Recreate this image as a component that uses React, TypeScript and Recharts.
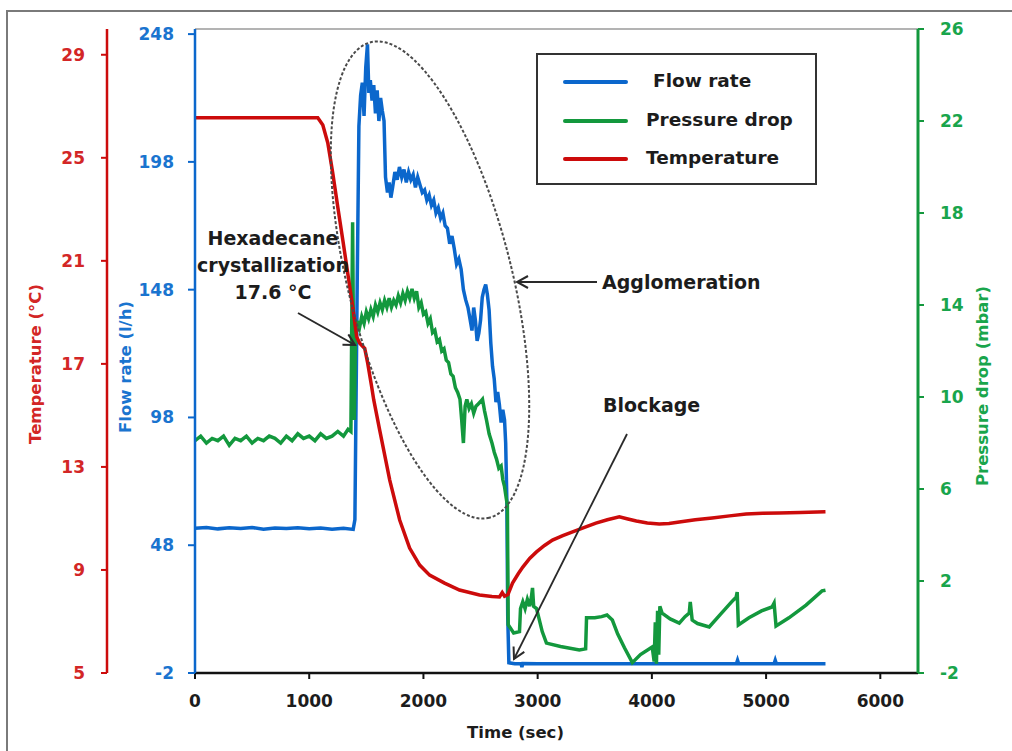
import React from 'react';
import { LineChart, Line, XAxis, YAxis, ReferenceLine, Legend } from 'recharts';

const FONT = '"DejaVu Sans", "Open Sans", sans-serif';

const BLUE = '#0b67cc';
const BLUE_TXT = '#1a74cf';
const GREEN = '#13983d';
const GREEN_TXT = '#19a54c';
const RED = '#cc0b0b';
const RED_TXT = '#d32626';
const INK = '#1c1c1c';

// ---------- data ----------
const timeTicks = [0, 1000, 2000, 3000, 4000, 5000, 6000];
const flowTicks = [-2, 48, 98, 148, 198, 248];
const tempTicks = [5, 9, 13, 17, 21, 25, 29];
const pressureTicks = [-2, 2, 6, 10, 14, 18, 22, 26];

// [time (sec), flow rate (l/h)]
const flowRate: [number, number][] = [
  [0, 54.6], [100, 54.9], [200, 54.4], [300, 54.8], [400, 54.5], [500, 54.9], [600, 54.3],
  [700, 54.7], [800, 54.5], [900, 54.8], [1000, 54.4], [1100, 54.7], [1200, 54.3], [1300, 54.6],
  [1385, 54.2], [1400, 58], [1420, 150], [1435, 212], [1450, 224], [1465, 229], [1480, 216],
  [1495, 235], [1510, 244], [1522, 225], [1535, 230], [1550, 222], [1565, 228], [1580, 217],
  [1595, 226], [1610, 214], [1625, 223], [1640, 218], [1655, 214], [1668, 192], [1685, 186],
  [1700, 190], [1715, 184], [1730, 188], [1750, 194], [1770, 191], [1790, 196], [1810, 192],
  [1830, 195], [1850, 190], [1870, 194], [1890, 191], [1910, 193], [1930, 188], [1950, 192],
  [1970, 189], [1990, 186], [2010, 187], [2030, 183], [2050, 185], [2070, 181], [2090, 183],
  [2110, 178], [2130, 180], [2150, 176], [2170, 178], [2190, 173], [2210, 172], [2230, 166],
  [2250, 169], [2270, 164], [2290, 158], [2310, 160], [2330, 156], [2350, 148], [2370, 144],
  [2390, 141], [2410, 136], [2425, 132], [2440, 141], [2455, 136], [2470, 128], [2485, 131],
  [2500, 136], [2515, 145], [2530, 148], [2545, 150], [2560, 146], [2575, 140], [2590, 127],
  [2605, 118], [2620, 113], [2635, 104], [2650, 108], [2665, 103], [2680, 96], [2695, 101],
  [2710, 97], [2720, 88], [2730, 66], [2738, 20], [2748, 2], [2800, 1.6], [2855, 1.6],
  [2862, 0.3], [2870, 1.7], [3000, 1.6], [3500, 1.6], [4000, 1.6], [4500, 1.6], [4740, 1.6],
  [4750, 3], [4760, 1.6], [5070, 1.6], [5080, 3], [5090, 1.6], [5300, 1.6], [5520, 1.6],
];

// [time (sec), pressure drop (mbar)]
const pressureDrop: [number, number][] = [
  [0, 8.1], [50, 8.3], [100, 8.0], [150, 8.2], [200, 8.1], [250, 8.3], [300, 7.9], [350, 8.2],
  [400, 8.1], [450, 8.3], [500, 8.0], [550, 8.2], [600, 8.1], [650, 8.3], [700, 8.2], [750, 8.0],
  [800, 8.3], [850, 8.1], [900, 8.4], [950, 8.2], [1000, 8.3], [1050, 8.1], [1100, 8.4],
  [1150, 8.2], [1200, 8.3], [1250, 8.5], [1300, 8.3], [1340, 8.6], [1365, 8.5], [1372, 13],
  [1380, 17.6], [1388, 12], [1395, 9], [1405, 12.8], [1420, 13.3], [1440, 13.0], [1460, 13.5],
  [1480, 13.2], [1500, 13.7], [1520, 13.4], [1540, 13.8], [1560, 13.5], [1580, 14.0],
  [1600, 13.7], [1620, 14.1], [1640, 13.8], [1660, 14.2], [1680, 13.9], [1700, 14.3],
  [1720, 13.9], [1740, 14.2], [1760, 14.0], [1780, 14.4], [1800, 14.1], [1820, 14.5],
  [1840, 14.2], [1860, 14.6], [1880, 14.3], [1900, 14.7], [1920, 14.3], [1940, 14.6],
  [1960, 13.9], [1980, 14.1], [2000, 13.6], [2020, 13.7], [2040, 13.2], [2060, 13.4],
  [2080, 12.8], [2100, 12.9], [2120, 12.4], [2140, 12.5], [2160, 12.0], [2180, 12.1],
  [2200, 11.6], [2220, 11.5], [2240, 11.0], [2260, 10.9], [2280, 10.4], [2300, 10.2],
  [2320, 9.9], [2335, 9.0], [2350, 8.0], [2365, 9.6], [2380, 9.9], [2400, 9.5], [2420, 9.7],
  [2440, 9.3], [2460, 9.6], [2480, 9.7], [2500, 9.8], [2517, 9.9], [2535, 9.4], [2552, 9.0],
  [2575, 8.4], [2600, 8.0], [2620, 7.6], [2640, 7.3], [2660, 6.9], [2680, 7.0], [2695, 6.4],
  [2710, 6.1], [2725, 5.6], [2735, 5.3], [2742, 0.1], [2790, -0.26], [2841, -0.2], [2850, 0.8],
  [2870, 1.1], [2890, 0.8], [2910, 1.2], [2930, 0.9], [2945, 1.3], [2955, 1.7], [2965, 0.9],
  [2990, 0.8], [3000, 0.6], [3040, -0.2], [3077, -0.7], [3200, -0.85], [3365, -1.0],
  [3420, -0.95], [3428, 0.4], [3500, 0.4], [3560, 0.45], [3607, 0.52], [3654, 0.3],
  [3700, -0.3], [3760, -0.9], [3829, -1.55], [3900, -1.2], [4003, -0.87], [4020, -1.5],
  [4030, 0.2], [4040, -1.6], [4050, 0.7], [4060, -1.2], [4070, 0.9], [4090, 0.6],
  [4160, 0.35], [4240, 0.17], [4290, 0.45], [4327, 0.6], [4336, 1.09], [4353, 0.3],
  [4400, 0.15], [4502, 0.0], [4600, 0.55], [4700, 1.1], [4738, 1.3], [4747, 1.52],
  [4757, 0.09], [4850, 0.4], [4960, 0.7], [5052, 0.87], [5070, 1.04], [5087, 0.04],
  [5200, 0.4], [5350, 0.95], [5490, 1.57], [5520, 1.6],
];

// [time (sec), temperature (°C)]
const temperature: [number, number][] = [
  [0, 26.55], [250, 26.55], [500, 26.55], [750, 26.55], [1000, 26.55], [1075, 26.55],
  [1119, 26.27], [1163, 25.57], [1206, 24.41], [1250, 23.09], [1294, 21.81], [1337, 20.53],
  [1381, 19.21], [1416, 18.04], [1442, 17.8], [1486, 17.6], [1512, 17.03], [1547, 16.1],
  [1565, 15.6], [1617, 14.43], [1705, 12.49], [1792, 10.94], [1879, 9.85], [1967, 9.19],
  [2054, 8.8], [2185, 8.49], [2316, 8.22], [2491, 8.03], [2600, 7.97], [2666, 7.95],
  [2690, 8.12], [2710, 7.98], [2740, 8.05], [2780, 8.49], [2830, 8.85], [2870, 9.11],
  [2930, 9.45], [2990, 9.7], [3060, 9.95], [3130, 10.16], [3220, 10.33], [3300, 10.47],
  [3410, 10.65], [3510, 10.82], [3610, 10.95], [3715, 11.06], [3790, 10.98], [3864, 10.9],
  [3960, 10.82], [4065, 10.78], [4150, 10.8], [4240, 10.86], [4380, 10.95], [4528, 11.02],
  [4680, 11.1], [4825, 11.17], [4970, 11.2], [5114, 11.21], [5300, 11.23], [5520, 11.26],
];

const toRows = (pts: [number, number][]) => pts.map(([t, v]) => ({ t, v }));

const flowRows = toRows(flowRate);
const pressureRows = toRows(pressureDrop);
const tempRows = toRows(temperature);

// ---------- helpers ----------
const tickStyle = (fill: string) => ({ fill, fontSize: 17, fontWeight: 700, fontFamily: FONT });

const verticalTitle = (text: string, color: string, dx: number, dy: number) => (props: any) => {
  const vb = props.viewBox || { x: 0, y: 0, width: 0, height: 0 };
  const x = vb.x + dx;
  const y = vb.y + vb.height / 2 + dy;
  return (
    <text
      x={x}
      y={y}
      transform={`rotate(-90 ${x} ${y})`}
      textAnchor="middle"
      dominantBaseline="central"
      fill={color}
      fontSize={16.5}
      fontWeight={700}
      fontFamily={FONT}
    >
      {text}
    </text>
  );
};

const timeTitle = (props: any) => {
  const vb = props.viewBox || { x: 0, y: 0, width: 0, height: 0 };
  return (
    <text
      x={vb.x + vb.width / 2 - 41}
      y={vb.y + 59}
      textAnchor="middle"
      dominantBaseline="central"
      fill={INK}
      fontSize={16.5}
      fontWeight={700}
      fontFamily={FONT}
    >
      Time (sec)
    </text>
  );
};

const renderLegend = (props: any) => {
  const payload = props.payload || [];
  const rowY = [29, 68, 106];
  const textX = [117, 110, 110];
  return (
    <div
      style={{
        position: 'relative',
        width: 281,
        height: 132,
        boxSizing: 'border-box',
        border: '2px solid #333',
        background: '#fff',
        fontFamily: FONT,
      }}
    >
      {payload.map((p: any, i: number) => (
        <React.Fragment key={p.value}>
          <div
            style={{
              position: 'absolute',
              left: 25,
              top: rowY[i] - 2 - 2,
              width: 65,
              height: 4,
              borderRadius: 2,
              background: p.color,
            }}
          />
          <div
            style={{
              position: 'absolute',
              left: textX[i] - 2,
              top: rowY[i] - 2 - 13,
              fontSize: 18.5,
              lineHeight: '24px',
              fontWeight: 700,
              color: INK,
              whiteSpace: 'nowrap',
            }}
          >
            {p.value}
          </div>
        </React.Fragment>
      ))}
    </div>
  );
};

const Annotations = () => (
  <svg
    width={1012}
    height={751}
    style={{ position: 'absolute', left: 0, top: 0, pointerEvents: 'none' }}
  >
    <defs>
      <marker
        id="openArrow"
        viewBox="0 0 14 14"
        refX={12}
        refY={7}
        markerWidth={14}
        markerHeight={14}
        markerUnits="userSpaceOnUse"
        orient="auto"
      >
        <path d="M1,1 L12,7 L1,13" fill="none" stroke="#2a2a2a" strokeWidth={2} />
      </marker>
    </defs>
    <ellipse
      cx={430}
      cy={280}
      rx={245}
      ry={82}
      transform="rotate(76 430 280)"
      fill="none"
      stroke="#4a4a4a"
      strokeWidth={2}
      strokeDasharray="3 2"
    />
    <g fontFamily={FONT} fontWeight={700} fontSize={19} fill={INK} textAnchor="middle">
      <text x={273} y={245}>Hexadecane</text>
      <text x={273} y={272}>crystallization</text>
      <text x={273} y={299}>17.6 °C</text>
    </g>
    <line x1={298} y1={313} x2={355} y2={345} stroke="#2a2a2a" strokeWidth={2} markerEnd="url(#openArrow)" />
    <g fontFamily={FONT} fontWeight={700} fontSize={19} fill={INK}>
      <text x={602} y={289}>Agglomeration</text>
      <text x={603} y={412}>Blockage</text>
    </g>
    <line x1={597} y1={282} x2={517} y2={282} stroke="#2a2a2a" strokeWidth={2} markerEnd="url(#openArrow)" />
    <line x1={627} y1={434} x2={514} y2={659} stroke="#2a2a2a" strokeWidth={1.8} markerEnd="url(#openArrow)" />
  </svg>
);

export default function App() {
  return (
    <div style={{ position: 'absolute', left: 0, top: 0, width: 1012, height: 751, background: '#fff' }}>
      <div
        style={{
          position: 'absolute',
          left: 6,
          top: 10,
          width: 1010,
          height: 739,
          borderTop: '2px solid #7a7a7a',
          borderLeft: '2px solid #7a7a7a',
          borderBottom: '1px solid #c4c4c4',
        }}
      />
      <LineChart
        width={1012}
        height={751}
        margin={{ top: 29, right: 4, bottom: 18, left: 12 }}
        style={{ fontFamily: FONT }}
      >
        <XAxis
          dataKey="t"
          type="number"
          domain={[0, 6330]}
          ticks={timeTicks}
          interval={0}
          allowDataOverflow
          height={60}
          stroke="#111"
          axisLine={{ stroke: '#111', strokeWidth: 2.5 }}
          tickLine={{ stroke: '#111', strokeWidth: 2 }}
          tickSize={6}
          tickMargin={16}
          tick={tickStyle(INK)}
          label={timeTitle}
        />
        <YAxis
          yAxisId="flow"
          orientation="left"
          type="number"
          domain={[-2, 250]}
          ticks={flowTicks}
          interval={0}
          allowDataOverflow
          width={88}
          stroke={BLUE}
          axisLine={{ stroke: BLUE, strokeWidth: 2.5 }}
          tickLine={{ stroke: BLUE, strokeWidth: 2 }}
          tickSize={7}
          tickMargin={14}
          tick={tickStyle(BLUE_TXT)}
          label={verticalTitle('Flow rate (l/h)', BLUE_TXT, 18, 16)}
        />
        <YAxis
          yAxisId="temp"
          orientation="left"
          type="number"
          domain={[5, 30]}
          ticks={tempTicks}
          interval={0}
          allowDataOverflow
          width={95}
          stroke={RED}
          axisLine={{ stroke: RED, strokeWidth: 2.5 }}
          tickLine={{ stroke: RED, strokeWidth: 2 }}
          tickSize={6}
          tickMargin={16}
          tick={tickStyle(RED_TXT)}
          label={verticalTitle('Temperature (°C)', RED_TXT, 23, 13)}
        />
        <YAxis
          yAxisId="pressure"
          orientation="right"
          type="number"
          domain={[-2, 26]}
          ticks={pressureTicks}
          interval={0}
          allowDataOverflow
          width={90}
          stroke={GREEN}
          axisLine={{ stroke: GREEN, strokeWidth: 3 }}
          tickLine={{ stroke: GREEN, strokeWidth: 2 }}
          tickSize={6}
          tickMargin={16}
          tick={tickStyle(GREEN_TXT)}
          label={verticalTitle('Pressure drop (mbar)', GREEN_TXT, 64, 35)}
        />
        <ReferenceLine yAxisId="flow" y={250} stroke="#9a9a9a" strokeWidth={1.5} />
        <Legend
          layout="vertical"
          align="center"
          verticalAlign="middle"
          content={renderLegend}
          wrapperStyle={{ position: 'absolute', left: 536, top: 53, width: 281, height: 132, right: 'auto', bottom: 'auto', margin: 0 }}
        />
        <Line
          yAxisId="flow"
          data={flowRows}
          dataKey="v"
          name="Flow rate"
          type="linear"
          stroke={BLUE}
          strokeWidth={3.5}
          dot={false}
          activeDot={false}
          isAnimationActive={false}
        />
        <Line
          yAxisId="pressure"
          data={pressureRows}
          dataKey="v"
          name="Pressure drop"
          type="linear"
          stroke={GREEN}
          strokeWidth={3.5}
          dot={false}
          activeDot={false}
          isAnimationActive={false}
        />
        <Line
          yAxisId="temp"
          data={tempRows}
          dataKey="v"
          name="Temperature"
          type="linear"
          stroke={RED}
          strokeWidth={3.5}
          dot={false}
          activeDot={false}
          isAnimationActive={false}
        />
      </LineChart>
      <Annotations />
    </div>
  );
}
